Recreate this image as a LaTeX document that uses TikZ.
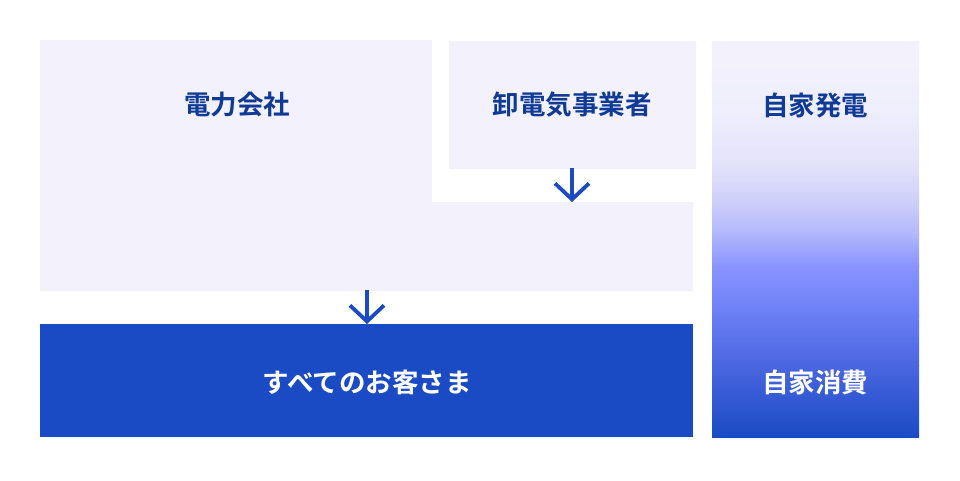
\documentclass[tikz,border=0pt]{standalone}
\usepackage{fontspec}
\newfontfamily\cjk{Noto Sans CJK JP}[BoldFont={Noto Sans CJK JP Bold}]
\usetikzlibrary{arrows.meta}
\definecolor{pale}{HTML}{F3F2FC}
\definecolor{deep}{HTML}{1A4BC4}
\definecolor{navy}{HTML}{0F3A96}
\definecolor{g1}{HTML}{EFEEFC}
\definecolor{g2}{HTML}{E2E2FA}
\definecolor{g3}{HTML}{CFD0FA}
\definecolor{g4}{HTML}{B0B6FC}
\definecolor{g5}{HTML}{8A94FF}
\definecolor{g6}{HTML}{6A7EF4}
\definecolor{g7}{HTML}{4A66E0}
\tikzset{
  lbl/.style={font=\cjk\bfseries\fontsize{26.5pt}{30pt}\selectfont, inner sep=0pt},
  dark/.style={lbl, text=navy},
  light/.style={lbl, text=white},
  flow/.style={draw=deep, line width=3.8pt, -{Straight Barb[length=16pt,width=34pt,line width=3.8pt]}},
  seg/.style={draw=none}
}
\begin{document}
\begin{tikzpicture}[x=1pt,y=-1pt]
\useasboundingbox (0,0) rectangle (960,480);
% L-shaped power company area
\fill[pale] (40,40) -- (432,40) -- (432,202) -- (693,202) -- (693,291) -- (40,291) -- cycle;
% wholesale box
\fill[pale] (449,41) rectangle (696,169);
% customers box
\fill[deep] (40,324) rectangle (693,437);
% self generation gradient column
\shade[seg, top color=pale, bottom color=g1] (712,41) rectangle (919,110.5);
\shade[seg, top color=g1, bottom color=g2] (712,110) rectangle (919,165.5);
\shade[seg, top color=g2, bottom color=g3] (712,165) rectangle (919,200.5);
\shade[seg, top color=g3, bottom color=g4] (712,200) rectangle (919,235.5);
\shade[seg, top color=g4, bottom color=g5] (712,235) rectangle (919,265.5);
\shade[seg, top color=g5, bottom color=g6] (712,265) rectangle (919,315.5);
\shade[seg, top color=g6, bottom color=g7] (712,315) rectangle (919,365.5);
\shade[seg, top color=g7, bottom color=deep] (712,365) rectangle (919,437);
% labels
\node[dark] (denryoku) at (237,105) {電力会社};
\node[dark] (oroshi) at (572,105) {卸電気事業者};
\node[dark] (jikahatsu) at (815,105) {自家発電};
\node[light] (okyaku) at (367,382) {すべてのお客さま};
\node[light] (jikashohi) at (815,382) {自家消費};
% arrow anchor points
\coordinate (a1s) at (572,168);
\coordinate (a1e) at (572,202);
\coordinate (a2s) at (367,290);
\coordinate (a2e) at (367,324);
\draw[flow] (a1s) -- (a1e);
\draw[flow] (a2s) -- (a2e);
\end{tikzpicture}
\end{document}
